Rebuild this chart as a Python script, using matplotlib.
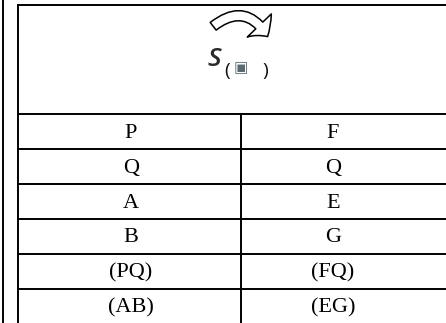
import matplotlib
matplotlib.use('Agg')
import matplotlib.pyplot as plt
from matplotlib.patches import FancyArrowPatch

# table contents
left_col = ['P', 'Q', 'A', 'B', '(PQ)', '(AB)']
right_col = ['F', 'Q', 'E', 'G', '(FQ)', '(EG)']

W, H = 446, 323
fig = plt.figure(figsize=(W / 100, H / 100), dpi=100)
ax = fig.add_axes([0, 0, 1, 1])
ax.set_xlim(0, W)
ax.set_ylim(H, 0)
ax.axis('off')

lw = 1.4
x_outer, x_left, x_mid, x_right = 2.5, 18, 240.5, W
y_top = 5
y_first = 113.5
row_h = 35

# frame lines
ax.plot([x_outer, x_outer], [0, H], color='black', lw=lw)
ax.plot([x_left, x_left], [y_top, H], color='black', lw=lw)
ax.plot([x_left, x_right], [y_top, y_top], color='black', lw=lw)
ax.plot([x_mid, x_mid], [y_first, H], color='black', lw=lw)
for i in range(len(left_col)):
    y = y_first + i * row_h
    ax.plot([x_left, x_right], [y, y], color='black', lw=lw)

# cell text
for i, (l, r) in enumerate(zip(left_col, right_col)):
    yc = y_first + i * row_h + row_h / 2 + 2
    ax.text(131, yc, l, ha='center', va='center', fontsize=16,
            family='Liberation Serif')
    ax.text(333, yc, r, ha='center', va='center', fontsize=16,
            family='Liberation Serif')

# header: curved hollow arrow
arrow = FancyArrowPatch((211, 28), (269, 39),
                        connectionstyle='arc3,rad=-0.6',
                        arrowstyle='simple,head_width=24,head_length=10,tail_width=7',
                        mutation_scale=1, facecolor='white', edgecolor='black', lw=1.1)
ax.add_patch(arrow)

# header: S with subscript
ax.text(214, 60, 'S', ha='center', va='center', fontsize=19, style='italic',
        weight='semibold', family='Open Sans', color='#2a2a2a')
ax.text(227, 71, '(', ha='center', va='center', fontsize=14, family='Open Sans',
        color='#111111')
ax.text(241, 68, '\u25a3', ha='center', va='center', fontsize=11, family='DejaVu Sans',
        color='#5a6a70')
ax.text(265, 71, ')', ha='center', va='center', fontsize=14, family='Open Sans',
        color='#111111')

fig.savefig('out.png', dpi=100)
